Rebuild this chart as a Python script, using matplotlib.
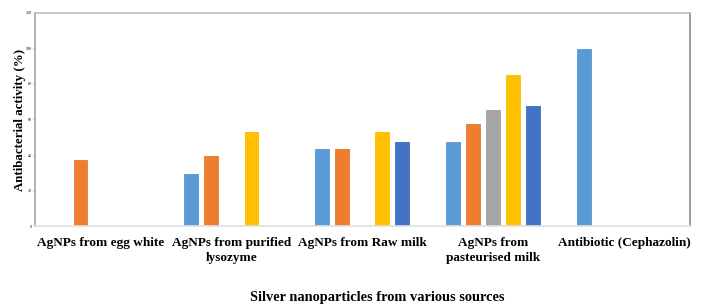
import matplotlib
matplotlib.use("Agg")
import matplotlib.pyplot as plt
import numpy as np

categories = ["AgNPs from egg white", "AgNPs from purified\nlysozyme",
              "AgNPs from Raw milk", "AgNPs from\npasteurised milk",
              "Antibiotic (Cephazolin)"]
series1 = [np.nan, 30, 44, 48, 100]
series2 = [38, 40, 44, 58, np.nan]
series3 = [np.nan, np.nan, np.nan, 66, np.nan]
series4 = [np.nan, 53.5, 53.5, 85.5, np.nan]
series5 = [np.nan, np.nan, 48, 68, np.nan]
yticks = [0, 20, 40, 60, 80, 100, 120]

colors = ["#5B9BD5", "#ED7D31", "#A5A5A5", "#FFC000", "#4472C4"]
all_series = [series1, series2, series3, series4, series5]

plt.rcParams['font.family'] = ['Liberation Serif', 'DejaVu Serif']

fig = plt.figure(figsize=(7.01, 3.06), dpi=100)
ax = fig.add_axes([0.05, 0.261, 0.934, 0.697])

x = np.arange(len(categories))
slot = 0.153
width = 0.122
for i, (s, c) in enumerate(zip(all_series, colors)):
    ax.bar(x + (i - 2) * slot, s, width=width, color=c,
           edgecolor="white", linewidth=0.8, zorder=2)

ax.set_xlim(-0.5, 4.5)
ax.set_ylim(0, 120)
ax.set_yticks(yticks)
ax.set_yticklabels([str(t) for t in yticks], fontsize=3)
ax.tick_params(axis='y', length=1.5, width=0.5, pad=1, color="#999999")
ax.set_xticks(x)
ax.set_xticklabels(categories, fontsize=9.5, fontweight='bold', linespacing=1.3)
ax.tick_params(axis='x', length=0, pad=8)

ax.spines['left'].set_color("#a6a6a6")
ax.spines['left'].set_linewidth(1.2)
ax.spines['top'].set_color("#bfbfbf")
ax.spines['top'].set_linewidth(1.2)
ax.spines['right'].set_color("#8c8c8c")
ax.spines['right'].set_linewidth(1.2)
ax.spines['bottom'].set_color("#e0e0e0")
ax.spines['bottom'].set_linewidth(1.2)

ax.set_ylabel("Antibacterial activity (%)", fontsize=9.3, fontweight='bold', labelpad=-0.5)
ax.set_xlabel("Silver nanoparticles from various sources", fontsize=10.4,
              fontweight='bold')
ax.xaxis.set_label_coords(0.522, -0.305)

fig.savefig("out.png", dpi=100)
